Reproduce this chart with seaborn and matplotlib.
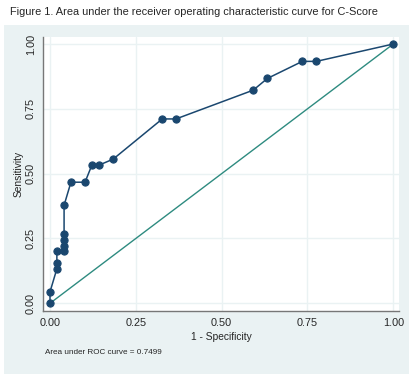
import pandas as pd
import matplotlib.pyplot as plt
import seaborn as sns
from matplotlib.patches import Rectangle


# ==========================================
# DATA
# ==========================================
one_minus_spec = [0.000, 0.000, 0.020, 0.020, 0.020, 0.041, 0.041, 0.041,
                  0.041, 0.041, 0.061, 0.102, 0.122, 0.143, 0.184, 0.327,
                  0.367, 0.592, 0.633, 0.735, 0.776, 1.000]
sensitivity = [0.000, 0.044, 0.133, 0.156, 0.200, 0.200, 0.222, 0.244,
               0.267, 0.378, 0.467, 0.467, 0.533, 0.533, 0.556, 0.711,
               0.711, 0.822, 0.867, 0.933, 0.933, 1.000]
ref_line = [0.0, 1.0]
tick_vals = [0.0, 0.25, 0.5, 0.75, 1.0]
tick_labels = ["0.00", "0.25", "0.50", "0.75", "1.00"]
auc_text = "Area under ROC curve = 0.7499"
title_text = "Figure 1. Area under the receiver operating characteristic curve for C-Score"

roc_df = pd.DataFrame({"fpr": one_minus_spec, "tpr": sensitivity})
diag_df = pd.DataFrame({"x": ref_line, "y": ref_line})

NAVY = "#1A476F"
TEAL = "#2E8B80"
BG = "#EAF2F3"

sns.set_style("white")
plt.rcParams["font.family"] = ["Liberation Sans", "DejaVu Sans"]

fig = plt.figure(figsize=(4.15, 3.74), dpi=100)
fig.patch.set_facecolor("white")

# light grey-blue graph region, kept behind the axes
fig.patches.append(Rectangle(
    (4 / 415, 0), 405 / 415, 349 / 374,
    transform=fig.transFigure, facecolor=BG, edgecolor="none", zorder=-10
))

ax = fig.add_axes([43 / 415, 1 - 311 / 374, 356 / 415, 274 / 374])
ax.set_facecolor("white")

sns.lineplot(
    x="x", y="y", data=diag_df, ax=ax,
    color=TEAL, linewidth=1.0, zorder=2
)

# estimator=None keeps every step of the curve (no averaging of tied x)
sns.lineplot(
    x="fpr", y="tpr", data=roc_df, ax=ax, sort=False, estimator=None,
    color=NAVY, linewidth=1.1, marker="o", markersize=5.2,
    markeredgecolor=NAVY, zorder=3
)

ax.set_xlim(-0.0204, 1.0166)
ax.set_ylim(-0.0297, 1.027)

ax.set_xticks(tick_vals)
ax.set_xticklabels(tick_labels, fontsize=7.8)
ax.set_yticks(tick_vals)
ax.set_yticklabels(tick_labels, fontsize=7.8, rotation=90, va="center")

ax.tick_params(axis="both", direction="out", length=3.5, width=0.8,
               color="#555555", pad=1.5)

ax.grid(True, color=BG, linewidth=1.0)
ax.set_axisbelow(True)

for side in ["top", "right"]:
    ax.spines[side].set_visible(False)
for side in ["left", "bottom"]:
    ax.spines[side].set_color("#777777")
    ax.spines[side].set_linewidth(1.0)

ax.set_xlabel("1 - Specificity", fontsize=7.4, labelpad=3)
ax.set_ylabel("Sensitivity", fontsize=7.4, labelpad=1.5)

fig.text(10 / 415, 1 - 12 / 374, title_text, fontsize=7.9,
         ha="left", va="center")
fig.text(45 / 415, 1 - 352 / 374, auc_text, fontsize=5.9,
         ha="left", va="center")

plt.savefig("out.png", dpi=100)
